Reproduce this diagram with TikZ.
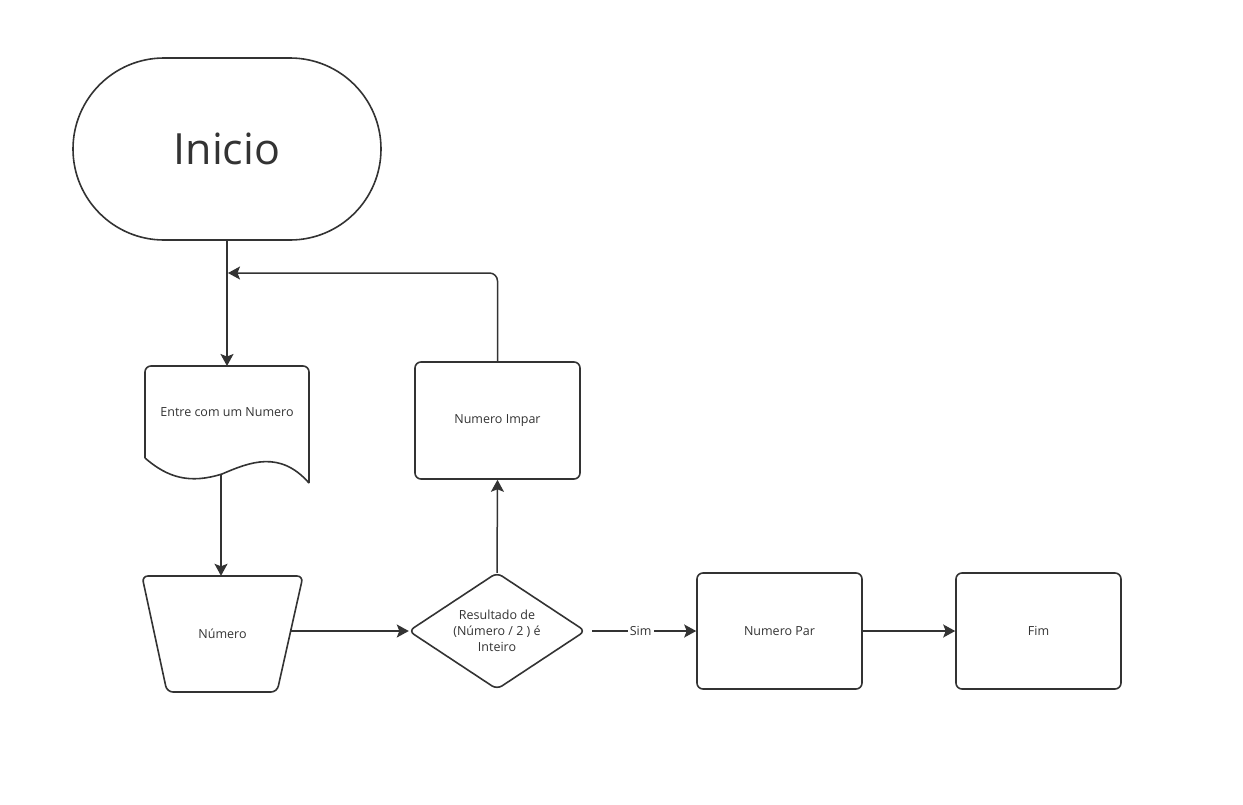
\documentclass[tikz,border=0pt]{standalone}
\usepackage{fontspec}
\setmainfont{Open Sans}
\usetikzlibrary{arrows.meta}
\definecolor{ink}{HTML}{333333}
\begin{document}
\begin{tikzpicture}[x=1pt,y=-1pt,
  outline/.style={draw=ink,line width=1.6pt,line join=round},
  conn/.style={draw=ink,line width=1.5pt,-{Stealth[length=12pt,width=13pt,inset=2.5pt]}},
  plainline/.style={draw=ink,line width=1.5pt},
  lbl/.style={text=ink,font=\fontsize{12.5}{16}\selectfont,align=center},
  box/.style={outline,lbl,rounded corners=6pt,minimum width=165pt,minimum height=116pt,inner sep=0pt},
  ghost/.style={lbl,draw=none,inner sep=0pt}]
\useasboundingbox (0,0) rectangle (1243,804);

% start terminator
\node[outline,rounded corners=91pt,minimum width=308pt,minimum height=182pt,
      text=ink,font=\fontsize{43}{50}\selectfont] (inicio) at (227,149) {Inicio};

% input document with wavy bottom
\node[ghost,minimum width=164pt,minimum height=92pt,anchor=north] (doc) at (227,366) {Entre com um Numero};
\draw[outline,rounded corners=6pt] (145,458) -- (145,366) -- (309,366) -- (309,483);
\draw[outline] (145,458) .. controls (168,478) and (190,484) .. (222,474)
               .. controls (250,462) and (280,450) .. (309,483);
\coordinate (docbot) at (221,475);

% manual operation (trapezium)
\node[ghost,minimum width=161pt,minimum height=116pt] (num) at (222.5,634) {Número};
\draw[outline,rounded corners=6pt] (142,576) -- (303,576) -- (277,692) -- (167,692) -- cycle;
\coordinate (numr) at (290.5,631);

% decision
\node[ghost,minimum width=176pt,minimum height=116pt] (dec) at (497,631)
  {Resultado de\\(Número / 2 ) é\\Inteiro};
\draw[outline,rounded corners=6pt] (dec.west) -- (dec.north) -- (dec.east) -- (dec.south) -- cycle;

% process boxes
\node[box,minimum height=117pt] (impar) at (497.5,420.5) {Numero Impar};
\node[box] (par) at (779.5,631) {Numero Par};
\node[box] (fim) at (1038.5,631) {Fim};

\coordinate (loop) at (228,273);

% connectors
\draw[conn] (inicio.south) -- (doc.north);
\draw[conn] (docbot) -- (docbot |- num.north);
\draw[conn] (numr) -- (numr -| dec.west);
\draw[conn] (dec.north) -- (impar.south);
\draw[conn,rounded corners=8pt] (impar.north) |- (loop);
\draw[conn,shorten <=7pt] (dec.east) -- node[lbl,fill=white,inner sep=2pt] {Sim} (par.west);
\draw[conn] (par.east) -- (fim.west);
\end{tikzpicture}
\end{document}
